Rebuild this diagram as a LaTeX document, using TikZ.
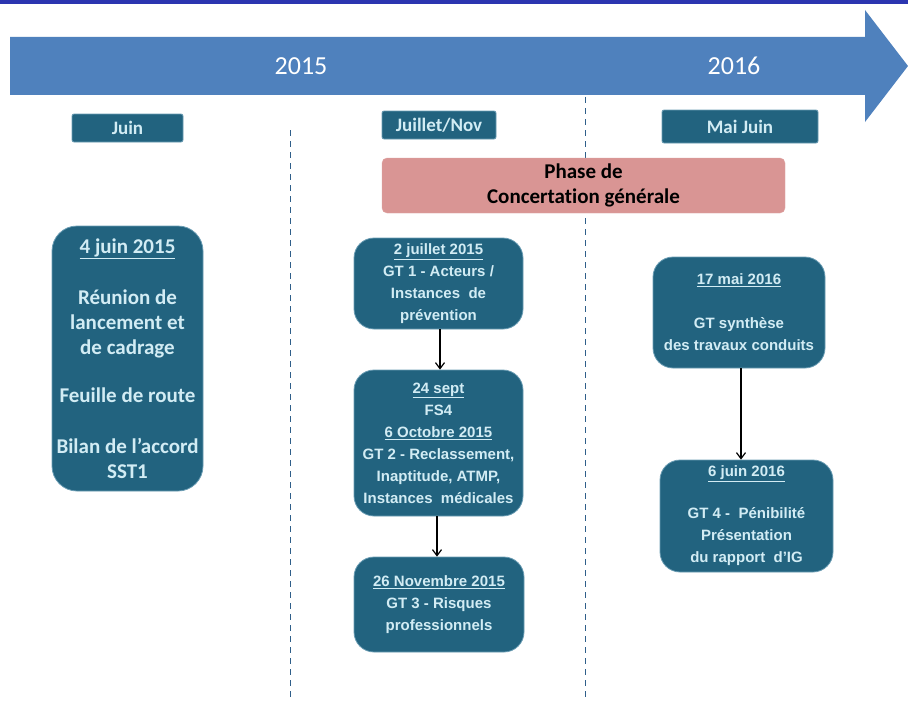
\documentclass[tikz,border=0pt]{standalone}
\usepackage{fontspec}
\setmainfont[Ligatures=NoCommon]{Carlito}
\newfontfamily\arialfam{Liberation Sans}
\usetikzlibrary{arrows.meta}
\definecolor{topline}{HTML}{2B35B0}
\definecolor{arrowblue}{HTML}{4F81BD}
\definecolor{boxteal}{HTML}{22637F}
\definecolor{boxedge}{HTML}{6A9CB3}
\definecolor{boxtext}{HTML}{D2ECF4}
\definecolor{pinkbox}{HTML}{D99594}
\definecolor{dashblue}{HTML}{2F5F8A}
\tikzset{
  evbox/.style={rectangle, rounded corners=20pt, fill=boxteal, draw=boxedge, line width=0.8pt,
    text=boxtext, align=center, inner sep=0pt, font=\arialfam\bfseries\fontsize{15}{22}\selectfont},
  hdr/.style={rectangle, rounded corners=2pt, fill=boxteal, draw=boxedge, line width=0.8pt,
    text=boxtext, align=center, inner sep=0pt, font=\bfseries\fontsize{19}{20}\selectfont},
  sepline/.style={dashblue, line width=1pt, dash pattern=on 6pt off 5pt},
  link/.style={black, line width=1.2pt, -{Straight Barb[length=6pt,width=9pt]}},
  year/.style={text=white, font=\fontsize{26}{28}\selectfont}
}
\begin{document}
\begin{tikzpicture}[x=1pt,y=-1pt]
\useasboundingbox (0,0) rectangle (908,701);
\fill[white] (0,0) rectangle (908,701);
% top line
\fill[topline] (0,0) rectangle (908,4);
% big arrow
\fill[arrowblue] (10,37) -- (865,37) -- (865,10) -- (908,66) -- (865,122) -- (865,95) -- (10,95) -- cycle;
\node[year] (y15) at (301,66) {2015};
\node[year] (y16) at (734,66) {2016};
% dashed separators
\coordinate (s1a) at (290,130);
\coordinate (s1b) at (290,701);
\coordinate (s2a) at (585,97);
\coordinate (s2b) at (585,701);
\draw[sepline] (s1a) -- (s1b);
\draw[sepline] (s2a) -- (s2b);
% headers
\node[hdr, minimum width=111pt, minimum height=28pt] (hjuin) at (127.5,128) {Juin};
\node[hdr, minimum width=114pt, minimum height=28pt] (hjuil) at (439,125) {Juillet/Nov};
\node[hdr, minimum width=156pt, minimum height=33pt] (hmai) at (740,126.5) {Mai Juin};
% phase
\node[rectangle, rounded corners=5pt, fill=pinkbox, draw=pinkbox!85!white, minimum width=403pt, minimum height=55pt,
  align=center, inner sep=0pt, font=\bfseries\fontsize{21}{25}\selectfont] (phase) at (583.5,185.5)
  {Phase de\\Concertation générale};
% event boxes
\node[evbox, minimum width=151pt, minimum height=265pt, rounded corners=25pt, font=\bfseries\fontsize{21}{25}\selectfont] (b1) at (127.5,358.5)
  {\underline{4 juin 2015}\\[26pt]Réunion de\\lancement et\\de cadrage\\[23pt]Feuille de route\\[26pt]Bilan de l’accord\\SST1};
\node[evbox, minimum width=169pt, minimum height=91pt] (gt1) at (438.5,283.5)
  {\underline{2 juillet 2015}\\GT 1 - Acteurs /\\Instances\ \ de\\prévention};
\node[evbox, minimum width=169pt, minimum height=146pt] (gt2) at (438.5,443)
  {\underline{24 sept}\\FS4\\\underline{6 Octobre 2015}\\GT 2 - Reclassement,\\Inaptitude, ATMP,\\Instances\ \ médicales};
\node[evbox, minimum width=170pt, minimum height=95pt] (gt3) at (439,604.5)
  {\underline{26 Novembre 2015}\\GT 3 - Risques\\professionnels};
\node[evbox, minimum width=172pt, minimum height=111pt] (syn) at (739,312.5)
  {\underline{17 mai 2016}\\[22pt]GT synthèse\\des travaux conduits};
\node[evbox, minimum width=173pt, minimum height=112pt] (gt4) at (746.5,516)
  {\underline{6 juin 2016}\\[20pt]GT 4 - \ Pénibilité\\Présentation\\du rapport \ d’IG};
% connectors
\draw[link] (gt1.south -| 440,0) -- (gt2.north -| 440,0);
\draw[link] (gt2.south -| 437,0) -- (gt3.north -| 437,0);
\draw[link] (syn.south -| 741,0) -- (gt4.north -| 741,0);
\end{tikzpicture}
\end{document}
